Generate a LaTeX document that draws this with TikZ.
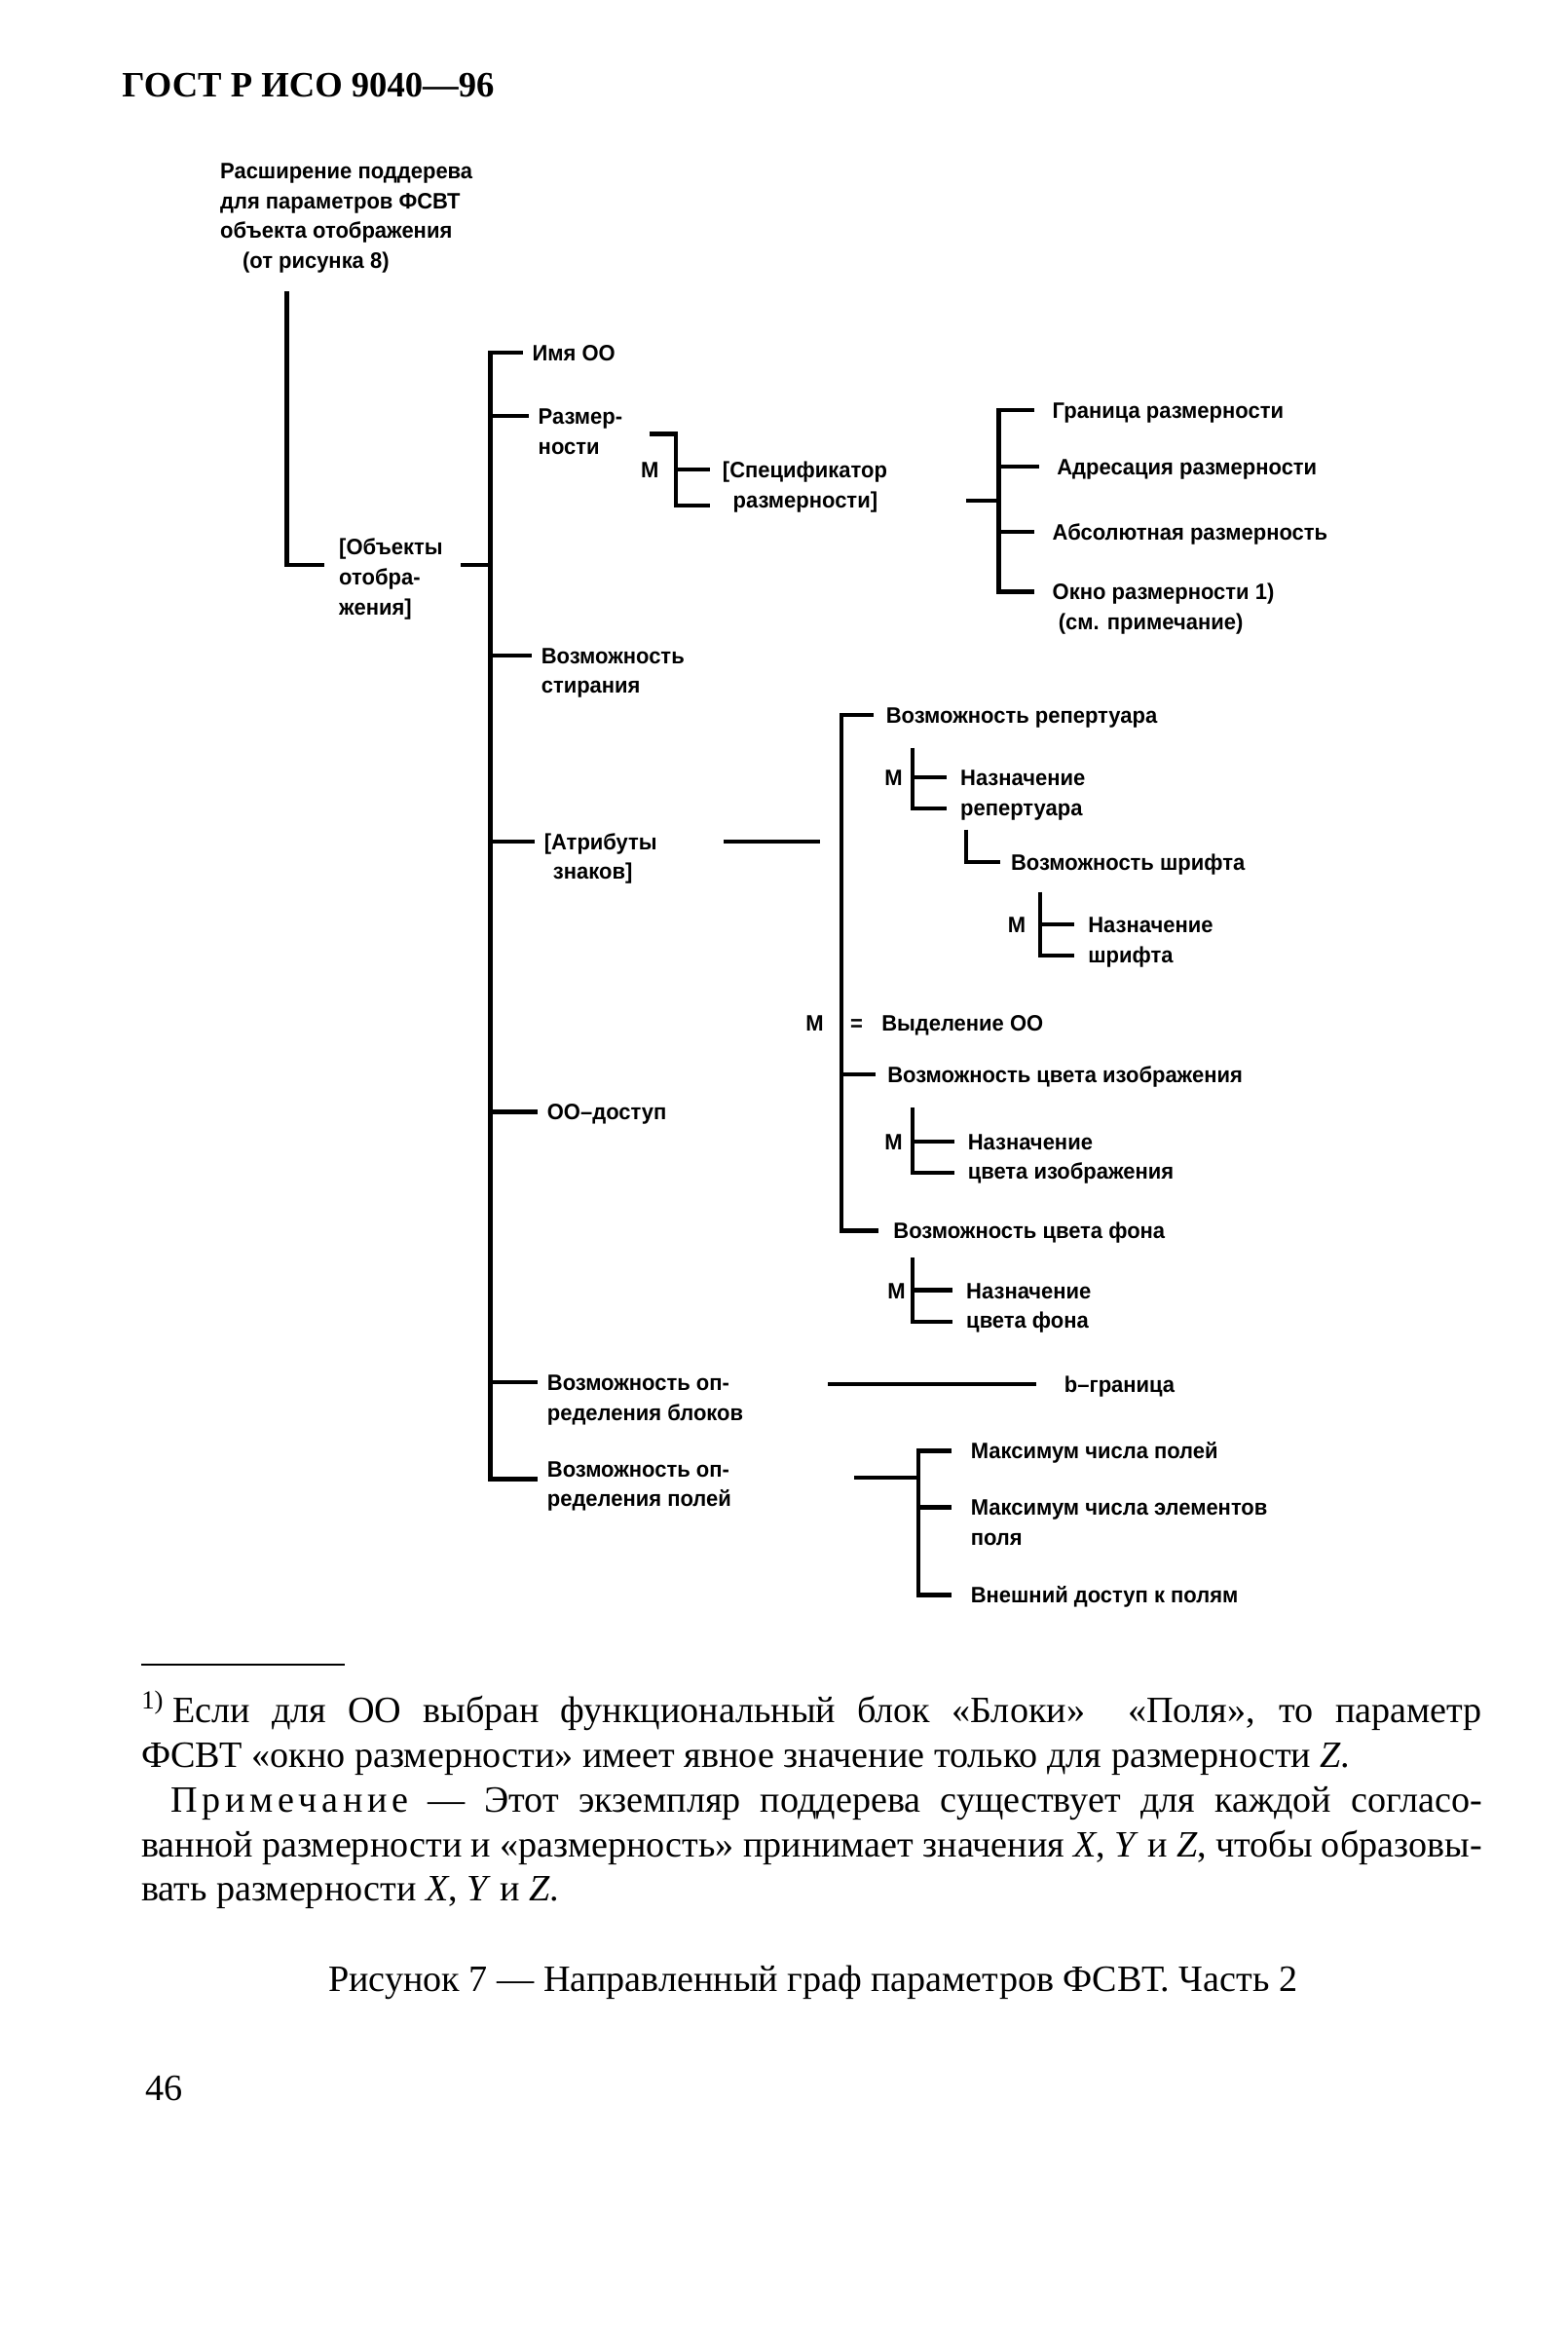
\documentclass[tikz,border=0pt]{standalone}
\usepackage{fontspec}
\setmainfont{Liberation Serif}
\newfontfamily\treefont{Liberation Sans}[FakeStretch=0.96]
\newcommand{\rowsof}[1]{\begin{tabular}[t]{@{}l@{}}#1\end{tabular}}
\begin{document}
\begin{tikzpicture}[x=1pt,y=-1pt,line join=miter,
    lbl/.style={anchor=west,inner sep=0pt,text height=11pt,text depth=0pt,
      font=\treefont\bfseries\fontsize{15}{20}\selectfont},
    tr/.style={line width=2.8pt},
    txt/.style={anchor=base west,inner sep=0pt,font=\fontsize{25}{30}\selectfont}]
  \useasboundingbox (0,0) rectangle (1055,1565.5);
  \node[anchor=base west,inner sep=0pt,font=\bfseries\fontsize{24}{28}\selectfont] (hdr) at (82,65) {ГОСТ Р ИСО 9040—96};
  % tree labels
  \node[lbl] (root) at (148,115) {\rowsof{Расширение поддерева\\для параметров ФСВТ\\объекта отображения\\\hspace*{15pt}(от рисунка 8)}};
  \node[lbl] (obj) at (228,368) {\rowsof{[Объекты\\отобра-\\жения]}};
  \node[lbl] (imya) at (358,237) {Имя ОО};
  \node[lbl] (razm) at (362,280) {\rowsof{Размер-\\ности}};
  \node[lbl] (stir) at (364,441) {\rowsof{Возможность\\стирания}};
  \node[lbl] (attr) at (366,566) {\rowsof{[Атрибуты\\\hspace*{6pt}знаков]}};
  \node[lbl] (dost) at (368,748) {ОО–доступ};
  \node[lbl] (blok) at (368,930) {\rowsof{Возможность оп-\\ределения блоков}};
  \node[lbl] (pol) at (368,988) {\rowsof{Возможность оп-\\ределения полей}};
  \node[lbl] (mS) at (431,316) {М};
  \node[lbl] (spec) at (486,316) {\rowsof{[Спецификатор\\\hspace*{7pt}размерности]}};
  \node[lbl] (gran) at (708,276) {Граница размерности};
  \node[lbl] (adr) at (711,314) {Адресация размерности};
  \node[lbl] (abs) at (708,358) {Абсолютная размерность};
  \node[lbl] (okno) at (708,398) {\rowsof{Окно размерности 1)\\\hspace*{4pt}(см. примечание)}};
  \node[lbl] (rep) at (596,481) {Возможность репертуара};
  \node[lbl] (mR) at (595,523) {М};
  \node[lbl] (nrep) at (646,523) {\rowsof{Назначение\\репертуара}};
  \node[lbl] (shr) at (680,580) {Возможность шрифта};
  \node[lbl] (mSh) at (678,622) {М};
  \node[lbl] (nsh) at (732,622) {\rowsof{Назначение\\шрифта}};
  \node[lbl] (mV) at (542,688) {М};
  \node[lbl] (eq) at (572,688) {=};
  \node[lbl] (vyd) at (593,688) {Выделение ОО};
  \node[lbl] (cviz) at (597,723) {Возможность цвета изображения};
  \node[lbl] (mC) at (595,768) {М};
  \node[lbl] (nciz) at (651,768) {\rowsof{Назначение\\цвета изображения}};
  \node[lbl] (fon) at (601,828) {Возможность цвета фона};
  \node[lbl] (mF) at (597,868) {М};
  \node[lbl] (nfon) at (650,868) {\rowsof{Назначение\\цвета фона}};
  \node[lbl] (bgr) at (716,931) {b–граница};
  \node[lbl] (maxp) at (653,976) {Максимум числа полей};
  \node[lbl] (maxe) at (653,1014) {\rowsof{Максимум числа элементов\\поля}};
  \node[lbl] (ext) at (653,1073) {Внешний доступ к полям};
  % main bar
  \coordinate (m) at (330,237);
  \coordinate (r) at (193,196);
  \coordinate (objm) at ([yshift=-12pt]obj.east);
  \draw[tr] (r) |- ([xshift=-10pt]objm -| obj.west);
  \draw[tr] ([xshift=12pt]objm) -- (m |- objm);
  \draw[tr] ([xshift=-6pt]imya.west) -- (m) |- ([xshift=-6pt,yshift=-7pt]pol.west);
  \foreach \n in {razm,stir,attr,dost,blok}
    \draw[tr] (m |- \n.west) -- ([xshift=-6pt]\n.west);
  % dimensions
  \coordinate (sm0) at (437,292);
  \coordinate (sm) at (455,292);
  \draw[tr] (sm0) -- (sm) |- ([xshift=-8pt,yshift=-24pt]spec.west);
  \draw[tr] (sm |- spec.west) -- ([xshift=-8pt]spec.west);
  \coordinate (d0) at (650,337);
  \coordinate (d) at (672,276);
  \draw[tr] ([xshift=-12pt]gran.west) -- (d) |- ([xshift=-12pt]okno.west);
  \foreach \n in {adr,abs}
    \draw[tr] (d |- \n.west) -- ([xshift=-12pt]\n.west);
  \draw[tr] (d0) -- (d |- d0);
  % character attributes
  \coordinate (a0) at (487,566);
  \coordinate (a1) at (552,566);
  \draw[tr] (a0) -- (a1);
  \coordinate (a) at (566,481);
  \draw[tr] ([xshift=-8pt]rep.west) -- (a) |- ([xshift=-10pt]fon.west);
  \draw[tr] (a |- cviz.west) -- ([xshift=-8pt]cviz.west);
  \coordinate (b1) at (614,503);
  \coordinate (b2) at (700,600);
  \coordinate (b3) at (614,745);
  \coordinate (b4) at (614,846);
  \coordinate (b5) at (650,558);
  \foreach \br/\nd in {b1/nrep,b2/nsh,b3/nciz,b4/nfon}{
    \draw[tr] (\br) |- ([xshift=-9pt,yshift=-21pt]\nd.west);
    \draw[tr] (\br |- \nd.west) -- ([xshift=-9pt]\nd.west);}
  \draw[tr] (b5) |- ([xshift=-7pt]shr.west);
  % blocks and fields
  \coordinate (k0) at (557,931);
  \draw[tr] (k0) -- ([xshift=-19pt]bgr.west);
  \coordinate (p0) at (575,994);
  \coordinate (p) at (618,976);
  \draw[tr] ([xshift=-13pt]maxp.west) -- (p) |- ([xshift=-13pt]ext.west);
  \draw[tr] (p |- maxe.west) -- ([xshift=-13pt]maxe.west);
  \draw[tr] (p0) -- (p |- p0);
  % footnote, note, caption
  \draw[line width=1.2pt] (95,1120) -- (232,1120);
  \node[txt] (fn) at (95,1159) {\rowsof{\makebox[902pt][s]{\textsuperscript{1)}\kern6pt Если для ОО выбран функциональный блок «Блоки»\ \ «Поля», то параметр}\\
    ФСВТ «окно размерности» имеет явное значение только для размерности \textit{Z}.}};
  \node[txt] (nt) at (95,1219) {\rowsof{\hspace*{20pt}\makebox[882pt][s]{П\kern3pt р\kern3pt и\kern3pt м\kern3pt е\kern3pt ч\kern3pt а\kern3pt н\kern3pt и\kern3pt е — Этот экземпляр поддерева существует для каждой согласо-}\\
    \makebox[902pt][s]{ванной размерности и «размерность» принимает значения \textit{X}, \textit{Y} и \textit{Z}, чтобы образовы-}\\
    вать размерности \textit{X}, \textit{Y} и \textit{Z}.}};
  \node[txt,anchor=base] (cap) at (547,1340) {Рисунок 7 — Направленный граф параметров ФСВТ. Часть 2};
  \node[txt] (pg) at (98,1413) {46};
\end{tikzpicture}
\end{document}
